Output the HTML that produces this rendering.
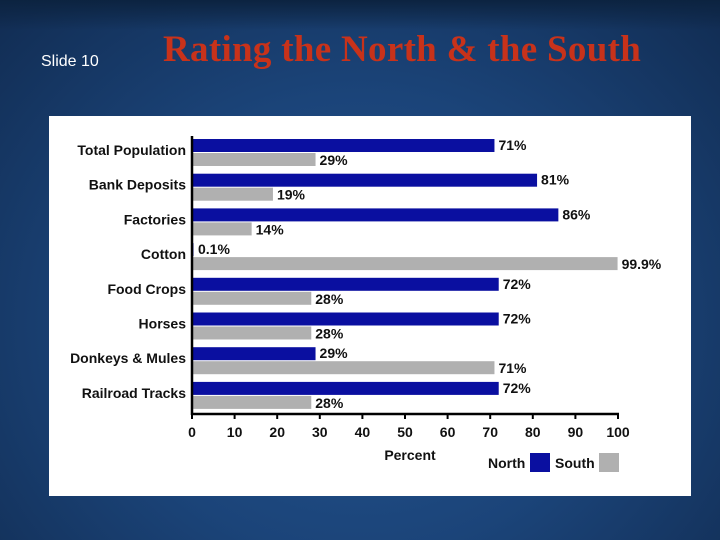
<!DOCTYPE html>
<html><head><meta charset="utf-8"><style>
html,body{margin:0;padding:0}
body{width:720px;height:540px;overflow:hidden;position:relative;font-family:"Liberation Sans",sans-serif;
background:radial-gradient(ellipse at 50% 60%,#24548f 0%,#1b4479 50%,#112c52 100%);}
#topband{position:absolute;left:0;top:0;width:720px;height:30px;background:linear-gradient(#0c2340,rgba(18,50,90,0));}
#slide{position:absolute;left:41px;top:53px;color:#fff;font-size:16px;}
#title{position:absolute;left:163px;top:28px;color:#c8321a;font-family:"Liberation Serif",serif;font-weight:bold;font-size:37px;letter-spacing:0.3px;}
#panel{position:absolute;left:49px;top:116px;width:642px;height:380px;background:#fff;}
svg{position:absolute;left:0;top:0}
text{font-family:"Liberation Sans",sans-serif;font-weight:bold;font-size:14px;fill:#111}
</style></head><body>
<div id="topband"></div>
<div id="slide">Slide 10</div>
<div id="title">Rating the North &amp; the South</div>
<div id="panel"></div>
<svg id="chart" width="720" height="540"></svg>
<script>
const categories=["Total Population","Bank Deposits","Factories","Cotton","Food Crops","Horses","Donkeys & Mules","Railroad Tracks"];
const northValues=[71,81,86,0.1,72,72,29,72];
const southValues=[29,19,14,99.9,28,28,71,28];
const northLabels=["71%","81%","86%","0.1%","72%","72%","29%","72%"];
const southLabels=["29%","19%","14%","99.9%","28%","28%","71%","28%"];
const ticks=[0,10,20,30,40,50,60,70,80,90,100];
const svg=document.getElementById('chart');const NS='http://www.w3.org/2000/svg';
const x0=192,x1=618;const xs=v=>x0+(x1-x0)*v/100;
const gTop=139,gStep=34.7,bh=13;
function mk(t,a){const e=document.createElementNS(NS,t);for(const k in a)e.setAttribute(k,a[k]);svg.appendChild(e);return e;}
categories.forEach((c,i)=>{
  const y=gTop+i*gStep;
  let t=mk('text',{x:186,y:y+16,'text-anchor':'end'});t.textContent=c;
  
  
  let b=mk('rect',{x:x0,y:y,width:Math.max(1.5,xs(northValues[i])-x0),height:bh,fill:'#0a0fa0'});
  
  
  let s=mk('rect',{x:x0,y:y+bh+1,width:xs(southValues[i])-x0,height:bh,fill:'#b0b0b0'});
  
  
  let nl=mk('text',{x:Math.max(xs(northValues[i]),x0+2)+4,y:y+11});nl.textContent=northLabels[i];
  
  
  let sl=mk('text',{x:xs(southValues[i])+4,y:y+bh+1+12});sl.textContent=southLabels[i];
  
  
});
let ax=mk('line',{x1:x0,y1:136,x2:x0,y2:415,stroke:'#000','stroke-width':2.5});


let xa=mk('line',{x1:x0-1,y1:414,x2:x1+1,y2:414,stroke:'#000','stroke-width':2.5});


ticks.forEach(v=>{
  let l=mk('line',{x1:xs(v),y1:414,x2:xs(v),y2:419,stroke:'#000','stroke-width':2});
  
  
  let t=mk('text',{x:xs(v),y:437,'text-anchor':'middle'});t.textContent=v;
  
  
});
let xt=mk('text',{x:410,y:460,'text-anchor':'middle'});xt.textContent='Percent';


let ln=mk('text',{x:488,y:468});ln.textContent='North';


let lr=mk('rect',{x:530,y:453,width:20,height:19,fill:'#0a0fa0'});


let ls=mk('text',{x:555,y:468});ls.textContent='South';


let lsr=mk('rect',{x:599,y:453,width:20,height:19,fill:'#b0b0b0'});


</script>
</body></html>
